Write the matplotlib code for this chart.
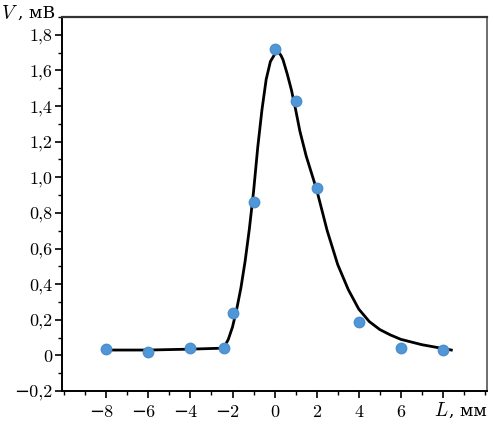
import matplotlib
matplotlib.use("Agg")
import matplotlib.pyplot as plt
import matplotlib.transforms as mtransforms
from matplotlib.ticker import MultipleLocator, FixedLocator, FuncFormatter

plt.rcParams['font.family'] = ['cmr10', 'DejaVu Serif']
plt.rcParams['mathtext.fontset'] = 'cm'
plt.rcParams['axes.unicode_minus'] = True

# measured points
L_pts = [-8, -6, -4, -2.4, -2, -1, 0, 1, 2, 4, 6, 8]
V_pts = [0.035, 0.02, 0.04, 0.04, 0.24, 0.86, 1.72, 1.43, 0.94, 0.19, 0.04, 0.03]

# fitted curve
L_fit = [-8.0, -6.0, -4.0, -2.6, -2.4, -2.2, -2.0, -1.8, -1.6, -1.4, -1.2, -1.0,
         -0.8, -0.6, -0.4, -0.2, 0.0, 0.1, 0.2, 0.3, 0.4, 0.6, 0.8, 1.0, 1.2,
         1.5, 2.0, 2.5, 3.0, 3.5, 4.0, 4.5, 5.0, 5.5, 6.0, 7.0, 8.4]
V_fit = [0.03, 0.03, 0.035, 0.04, 0.045, 0.09, 0.16, 0.26, 0.38, 0.53, 0.71, 0.92,
         1.17, 1.38, 1.55, 1.65, 1.69, 1.70, 1.70, 1.685, 1.66, 1.58, 1.49, 1.38, 1.26,
         1.12, 0.93, 0.70, 0.51, 0.37, 0.26, 0.19, 0.145, 0.115, 0.09, 0.06, 0.03]

x_ticks = [-8, -6, -4, -2, 0, 2, 4, 6, 8]
x_labels = ['−8', '−6', '−4', '−2', '0', '2', '4', '6', '']
y_ticks = [-0.2, 0, 0.2, 0.4, 0.6, 0.8, 1.0, 1.2, 1.4, 1.6, 1.8]

fig = plt.figure(figsize=(4.93, 4.25), dpi=100)
ax = fig.add_axes([0.126, 0.08, 0.862, 0.88])

ax.plot(L_fit, V_fit, color='black', linewidth=2.0, zorder=2)
ax.plot(L_pts, V_pts, 'o', color='#5197d6', markersize=7.5,
        markeredgecolor='#4a8fd0', zorder=3)

ax.set_xlim(-10.1, 10.1)
ax.set_ylim(-0.2, 1.9)

ax.xaxis.set_major_locator(FixedLocator(x_ticks))
ax.set_xticklabels(x_labels)
ax.xaxis.set_minor_locator(MultipleLocator(1))
ax.yaxis.set_major_locator(FixedLocator(y_ticks))
ax.yaxis.set_minor_locator(MultipleLocator(0.1))

def yfmt(v, pos):
    if abs(v) < 1e-9:
        return '0'
    return ('%.1f' % v).replace('.', ',').replace('-', '−')

ax.yaxis.set_major_formatter(FuncFormatter(yfmt))

ax.tick_params(axis='both', which='major', direction='out', length=5, width=1.2,
               labelsize=13, top=False, right=False)
ax.tick_params(axis='y', which='major', pad=2)
ax.tick_params(axis='x', which='major', pad=5)
ax.tick_params(axis='both', which='minor', direction='out', length=3, width=1.0,
               top=False, right=False)

# keep the digits of negative labels centred on the tick
shift = mtransforms.ScaledTranslation(-0.055, 0, fig.dpi_scale_trans)
for lab in ax.get_xticklabels():
    if lab.get_text().startswith('−'):
        lab.set_transform(lab.get_transform() + shift)

for side in ['left', 'bottom']:
    ax.spines[side].set_linewidth(1.4)
ax.spines['top'].set_linewidth(1.6)
ax.spines['top'].set_color('#333333')
ax.spines['right'].set_linewidth(1.2)
ax.spines['right'].set_color('#555555')

# axis names
fig.text(0.036, 0.968, '$V$', ha='right', va='center', fontsize=14)
fig.text(0.036, 0.968, ', мВ', ha='left', va='center', fontsize=12.5,
         family='DejaVu Serif')
fig.text(0.91, 0.033, '$L$', ha='right', va='center', fontsize=14)
fig.text(0.91, 0.033, ', мм', ha='left', va='center', fontsize=12.5,
         family='DejaVu Serif')

fig.savefig('out.png', dpi=100)
